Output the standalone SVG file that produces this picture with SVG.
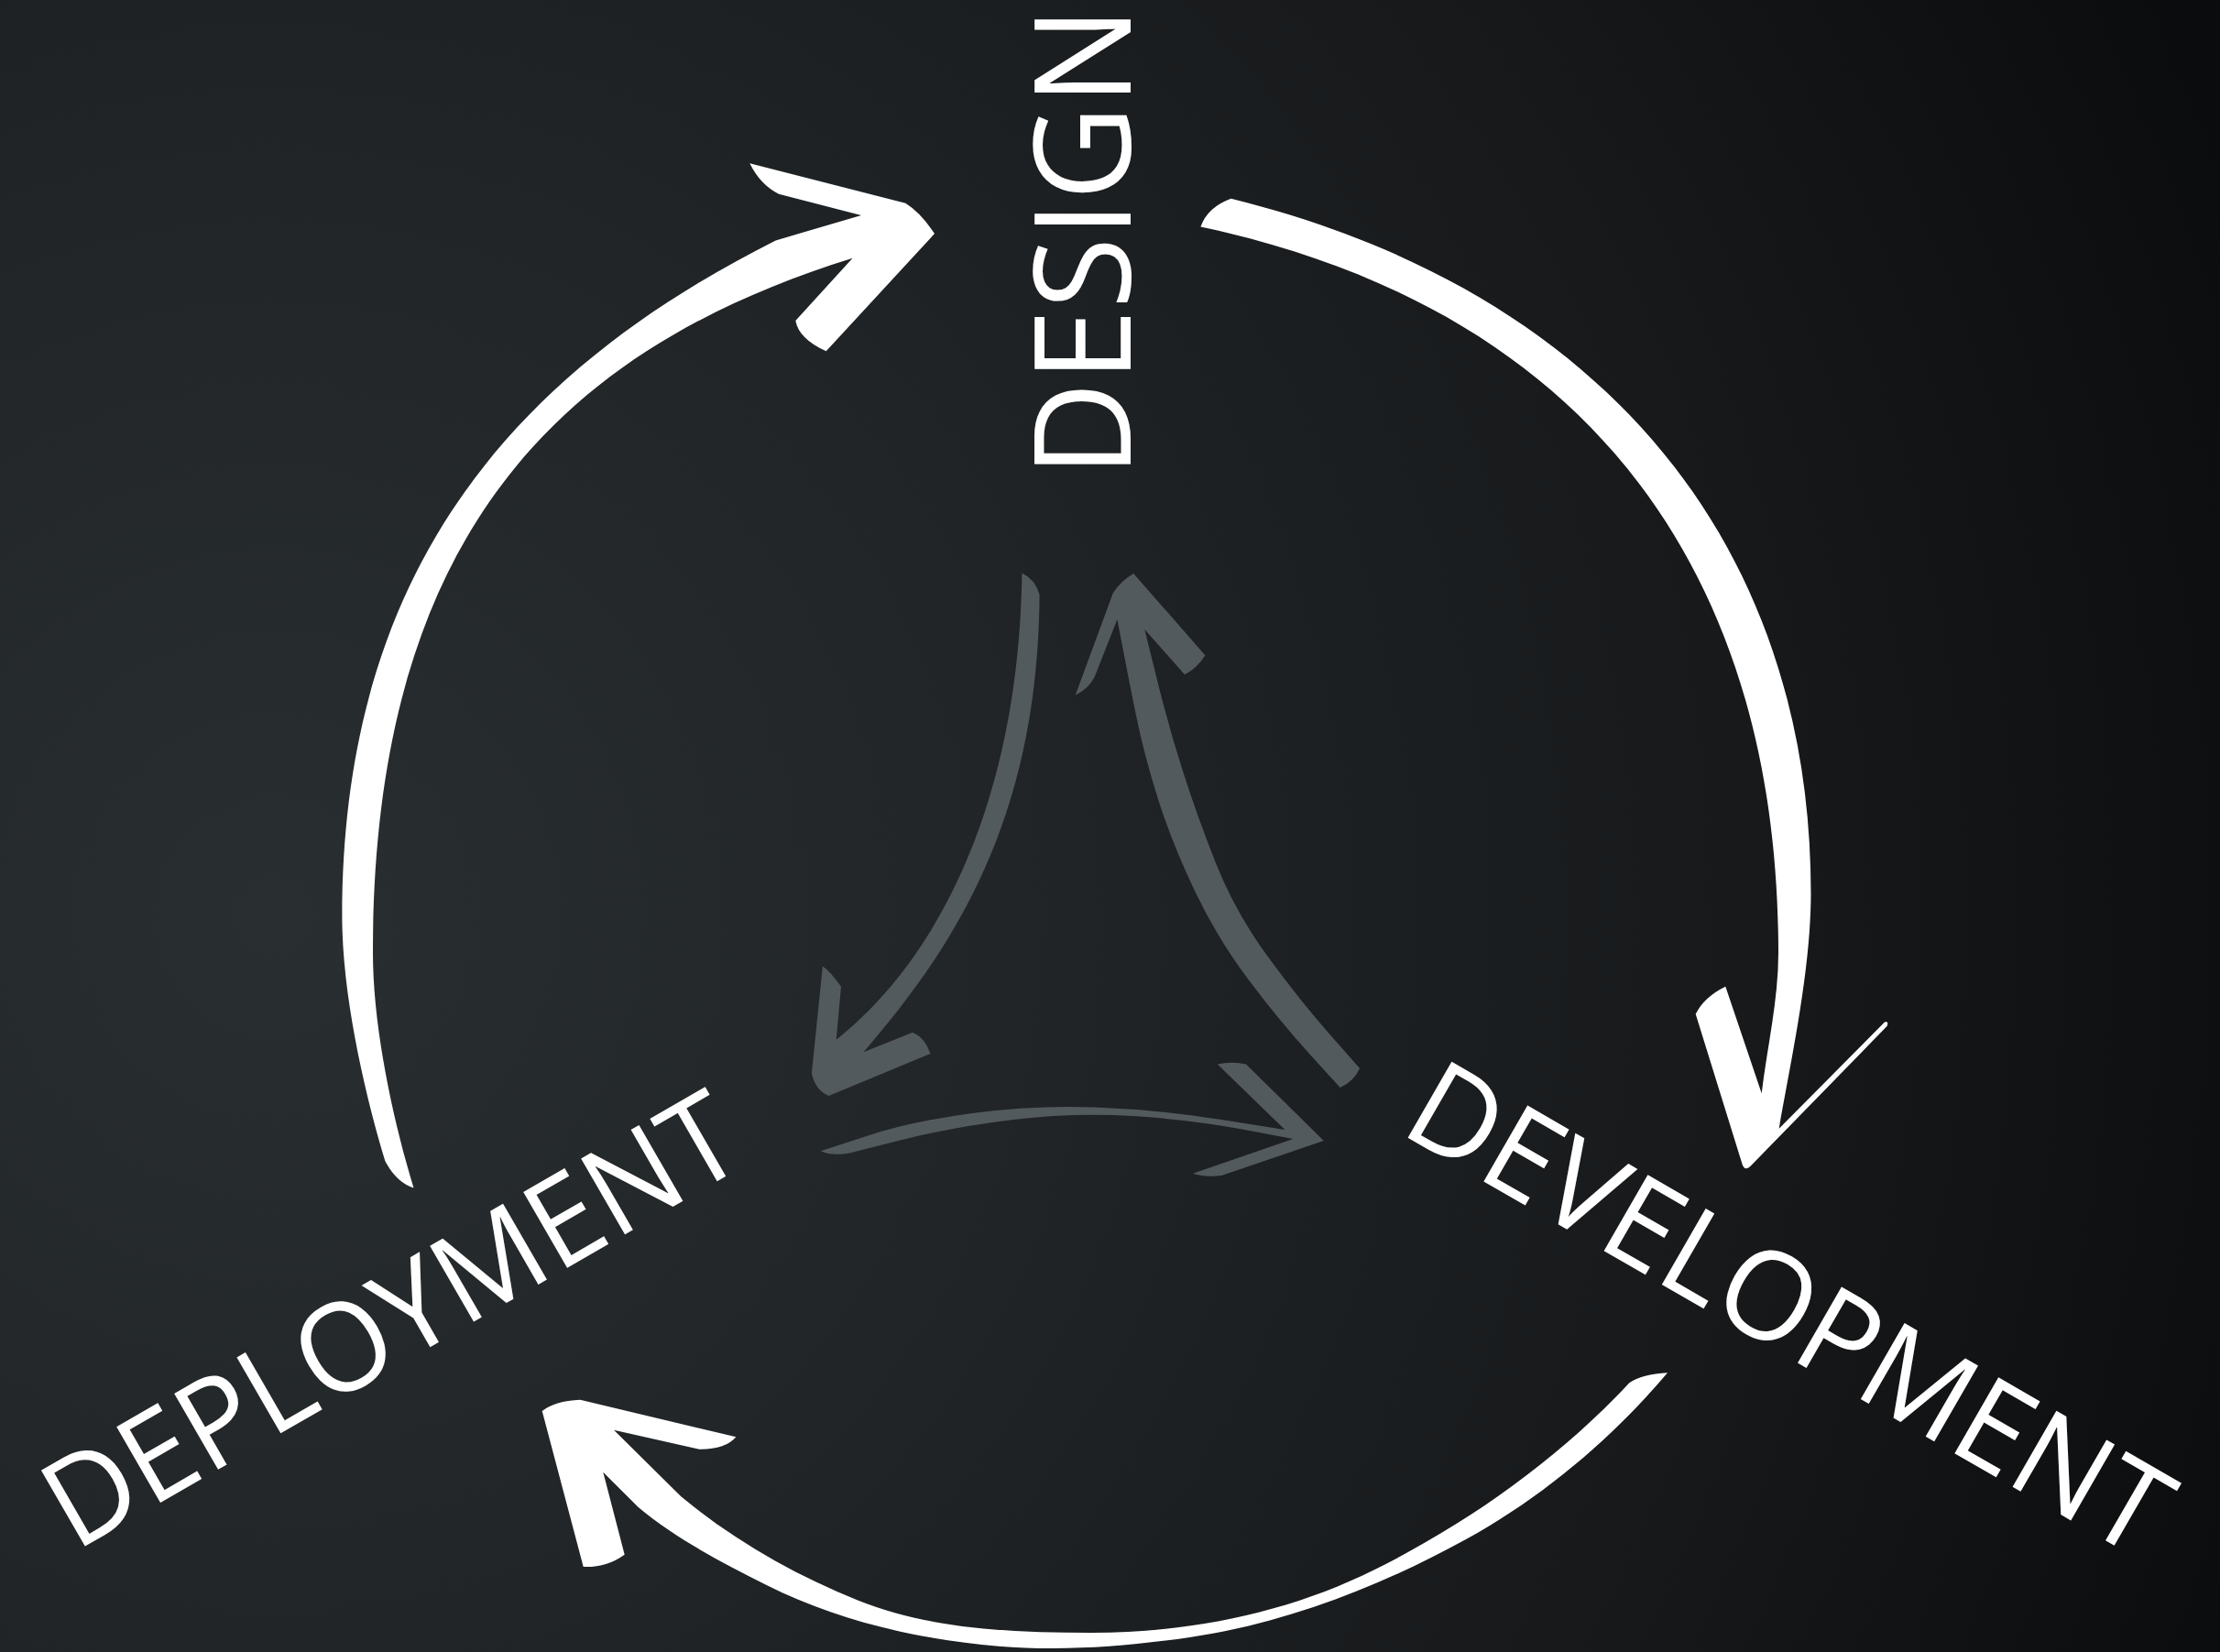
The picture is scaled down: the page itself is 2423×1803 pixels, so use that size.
<svg xmlns="http://www.w3.org/2000/svg" width="2423" height="1803" viewBox="0 0 2423 1803">
  <defs>
    <radialGradient id="bg" gradientUnits="userSpaceOnUse" cx="300" cy="1000" r="2300">
      <stop offset="0" stop-color="#292e30"/>
      <stop offset="0.35" stop-color="#212527"/>
      <stop offset="0.7" stop-color="#17191b"/>
      <stop offset="1" stop-color="#0b0c0d"/>
    </radialGradient>
    <style>
      .w { fill: #ffffff; }
      .g { fill: #535a5d; }
      .lbl { font-family: "Open Sans", "Liberation Sans", sans-serif; fill: #ffffff; font-weight: 400; }
    </style>
  </defs>

  <rect x="0" y="0" width="2423" height="1803" fill="url(#bg)"/>

  <!-- brush-stroke connectors -->
  <g id="connectors">
    <!-- outer cycle: deployment -> design -->
    <path id="arc-deploy-design" class="w" d="M846.6,262.4 C561.8,406.4 373.4,620 373.4,1000 C373.4,1090 400,1199.7 420.3,1266.9 Q432,1290 451.5,1296.6 C428.3,1219.8 407,1120 407,1040 C407,610 586.7,388.3 930.5,281.7 L868.3,350 Q872,370 901.7,383.3 L1020,255 Q1005,232 988.3,221.7 L818.3,178.3 Q830,202 850,211.7 L940,235 Z"/>

    <!-- outer cycle: design -> development -->
    <path id="arc-design-dev" class="w" d="M1310.4,247.5 Q1318,226 1343.6,216.7 C1751,317.5 1976.5,595 1976.5,975 C1976.5,1060 1953.6,1162.7 1941.7,1231.7 L2057,1115.5 Q2062,1114 2059.5,1120 L1910,1273.3 Q1905,1278 1902,1272 L1850.7,1106.7 Q1860,1088 1883.3,1076.7 L1922.7,1193.3 C1928.9,1142.3 1941,1091.5 1941,1040 C1941,610 1720,335 1310.4,247.5 Z"/>

    <!-- outer cycle: development -> deployment -->
    <path id="arc-dev-deploy" class="w" d="M670,1560.7 L743.3,1633.3 C800.8,1681.1 867.4,1718.9 936.7,1746.7 C1015.8,1778.4 1104.8,1781.7 1190,1782 C1295.8,1782.3 1405.3,1760.6 1500,1713.3 C1602.9,1661.9 1699.8,1593.3 1778.3,1509.3 Q1792,1500 1820,1498.3 C1758.5,1570.8 1683.3,1634.2 1600,1680 C1507.1,1731.1 1404.9,1771.1 1300,1786.7 C1230.7,1797 1159.9,1802.4 1090,1796.7 C1003,1789.5 914.7,1769 836.7,1730 C787.9,1705.6 738.7,1679.9 696.7,1645 L658.3,1606.7 L681.7,1696.7 Q662,1711 636.7,1710 L591.7,1540 Q605,1529 633.3,1527.7 L803.3,1568.3 Q792,1582 763.3,1581.7 Z"/>

    <!-- inner cycle: design -> deployment -->
    <path id="in-design-deploy" class="g" d="M1115.4,625.4 C1112,880 1020,1050 912.7,1134.8 L918,1076.8 Q906,1060 897.9,1054.5 L885.9,1171.4 Q890,1190 904.6,1196 L1015.4,1150 Q1010,1133 996.2,1126.8 L942.6,1148.2 C1040,1035 1133,895 1134.6,649.1 Q1130,632 1115.4,625.4 Z"/>

    <!-- inner cycle: development -> design -->
    <path id="in-dev-design" class="g" d="M1462.7,1187 L1429.2,1150.2 Q1395.7,1113.4 1362.3,1068.8 Q1328.8,1024.1 1304.2,972.8 Q1279.6,921.4 1264,872.3 Q1248.4,823.2 1239.5,778.6 Q1230.5,733.9 1225,704.9 L1219.4,675.9 L1194.8,738.4 Q1188,751.8 1173.8,758.5 L1214.9,646.9 Q1223.8,633.5 1237.2,625.9 L1315.4,715.2 Q1306.4,729.5 1293,736.2 L1249.3,687 L1262.3,739.5 Q1275.2,792 1290.8,841.1 Q1306.4,890.2 1327.2,942.6 Q1348,995 1383,1043 Q1418,1091 1451,1128.5 L1484.1,1166 Q1478,1180 1462.7,1187 Z"/>

    <!-- inner cycle: deployment -> development -->
    <path id="in-deploy-dev" class="g" d="M895.7,1256.3 L944.9,1240.2 Q994,1224 1061,1215 Q1128,1206 1195,1208.5 Q1262,1211 1333.3,1222 L1402.4,1233 L1328.8,1161.6 Q1345,1158 1360,1161.6 L1444.8,1245.1 L1333.2,1283 Q1315,1285 1302,1280.8 L1411.3,1242.9 L1355.7,1232.5 Q1300,1222 1236,1218 Q1172,1214 1106,1222 Q1040,1230 983.5,1244.3 L927,1258.5 Q908,1262 895.7,1256.3 Z"/>
  </g>

  <!-- stage labels -->
  <g id="node-design">
    <text class="lbl" transform="translate(1234,520.4) rotate(-90)" font-size="147" textLength="513" lengthAdjust="spacingAndGlyphs">DESIGN</text>
  </g>
  <g id="node-development">
    <text class="lbl" transform="translate(1525.4,1235.2) rotate(30)" font-size="134" textLength="934" lengthAdjust="spacingAndGlyphs">DEVELOPMENT</text>
  </g>
  <g id="node-deployment">
    <text class="lbl" transform="translate(81.8,1694) rotate(-30)" font-size="134" textLength="851" lengthAdjust="spacingAndGlyphs">DEPLOYMENT</text>
  </g>
</svg>
